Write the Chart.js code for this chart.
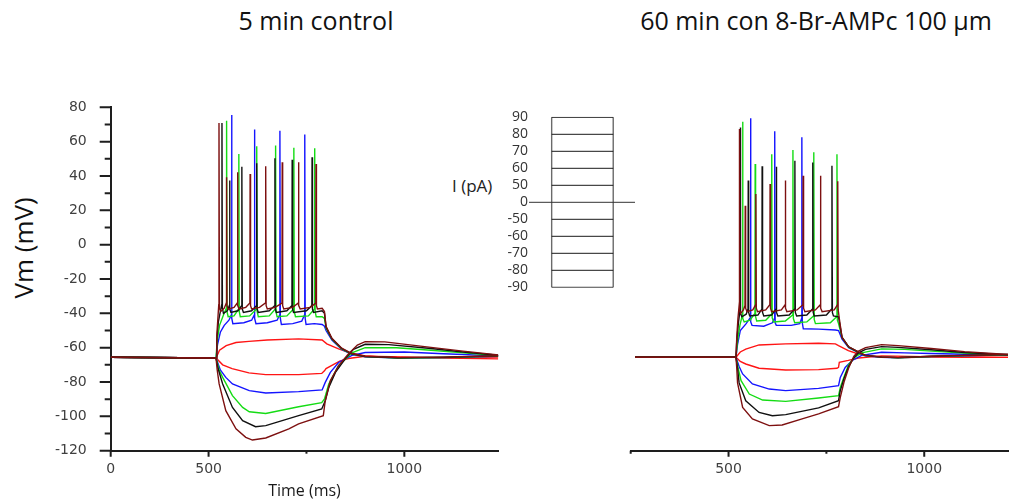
<!DOCTYPE html>
<html>
<head>
<meta charset="utf-8">
<script src="https://cdn.jsdelivr.net/npm/chart.js@4.4.1/dist/chart.umd.min.js"></script>
<style>
  html, body { margin: 0; padding: 0; background: #fff; }
  #fig { position: relative; width: 1011px; height: 501px; overflow: hidden; }
  canvas { position: absolute; top: 0; }
  .ttl { position: absolute; top: 2px; height: 36px; line-height: 36px; text-align: center;
         font-family: 'Open Sans', sans-serif; font-size: 25px; color: #111; white-space: nowrap; }
  #vm { position: absolute; left: 23px; top: 248px; transform: translate(-50%, -50%) rotate(-90deg);
        font-family: 'Open Sans', sans-serif; font-size: 26px; color: #111; white-space: nowrap; }
  #ipa { position: absolute; left: 452px; top: 174px; font-family: 'Open Sans', sans-serif;
         font-size: 17px; color: #222; white-space: nowrap; }
</style>
</head>
<body>
<div id="fig">
  <div class="ttl" style="left:0;width:632px">5 min control</div>
  <div class="ttl" style="left:621px;width:390px">60 min con 8-Br-AMPc 100 µm</div>
  <div id="vm">Vm (mV)</div>
  <div id="ipa">I (pA)</div>
  <canvas id="ctrl" width="520" height="501" style="left:0"></canvas>
  <canvas id="camp" width="390" height="501" style="left:621px"></canvas>
  <canvas id="proto" width="210" height="200" style="left:440px;top:100px"></canvas>
</div>
<script>
// ---- axis ticks ----
const yTickValues = [-120, -100, -80, -60, -40, -20, 0, 20, 40, 60, 80];
const yMinorValues = [-110, -90, -70, -50, -30, -10, 10, 30, 50, 70];
const timeTickValues = [250, 500, 750, 1000];
const ctrlTimeLabels = ['0', '500', '', '1000'];
const campTimeLabels = ['', '500', '', '1000'];

// ---- current-clamp protocol (pA) ----
const currentLevels = [90, 80, 70, 60, 50, 0, -50, -60, -70, -80, -90];
const stepWindow = [519, 796];      // ms
const holdingSpan = [417, 894];     // ms

// ---- 5 min control: membrane potential traces [time ms, Vm mV] ----
const ctrl_p50 = [[250,-65.6],[519,-66],[528,-61.5],[545,-58.8],[570,-57],[603,-56.3],[650,-55.5],[730,-54.9],[790,-55.5],[802,-57.8],[832,-60.7],[857,-62.7],[900,-64.8],[980,-65.8],[1100,-65.8],[1240,-65.5]];
const ctrl_p60 = [[250,-65.6],[519,-66],[523,-58],[530,-51],[540,-47],[552,-44],[558,-41],[558.7,75.5],[559.8,-43],[562,-46],[590,-45.5],[610,-44],[616.5,-41],[617.1,67],[618.2,-43],[621,-46],[650,-45.5],[675,-44],[681.6,-41],[682.2,66.4],[683.3,-43],[686,-46.5],[715,-46],[738,-44.5],[745.1,-41],[745.7,64.1],[746.8,-43],[749,-46.5],[770,-46],[790,-46.5],[796,-47.5],[800,-50],[815,-55.5],[840,-61],[866,-63.9],[900,-65.3],[984,-66],[1100,-65.8],[1240,-65]];
const ctrl_p70 = [[250,-65.6],[519,-66],[522,-56],[528,-47],[538,-41],[545.4,-37],[546,72.2],[547.1,-39],[550,-42],[565,-41.5],[576.7,-37.5],[577.3,52.8],[578.4,-39],[581,-42],[605,-41.5],[622.4,-37.5],[623,57.3],[624.1,-39],[627,-42],[655,-41.5],[670.6,-37.5],[671.2,57.7],[672.3,-39],[675,-42],[700,-41.5],[717.2,-37.5],[717.8,56.5],[718.9,-39],[722,-42],[755,-41.5],[770.5,-37.5],[771.1,56.1],[772.2,-39],[775,-42],[790,-42],[796,-43],[800,-48.5],[815,-55],[840,-60.7],[866,-63.7],[900,-65.2],[984,-66],[1100,-65.7],[1240,-64.9]];
const ctrl_p80 = [[250,-65.6],[519,-66],[521,-55],[525,-45],[530,-39],[533.6,-35],[534.2,70.9],[535.3,-37],[538,-40],[548,-38.5],[553,-35.5],[553.6,37.3],[554.7,-37.5],[557,-39.5],[575,-38.5],[584.4,-35.5],[585,45.4],[586.1,-37.5],[589,-39.5],[610,-38.5],[622.4,-35.5],[623,47.4],[624.1,-37.5],[627,-39.5],[655,-38.5],[668.9,-35.5],[669.5,50.3],[670.6,-37.5],[673,-39.5],[700,-38.5],[712.9,-35.5],[713.5,49.5],[714.6,-37.5],[717,-39.5],[750,-38.5],[763.7,-35.5],[764.3,50.9],[765.4,-37.5],[768,-39.5],[790,-38.5],[796,-40],[800,-48],[815,-54.8],[840,-60.5],[866,-63.6],[900,-65.1],[984,-65.9],[1100,-65.6],[1240,-64.8]];
const ctrl_p90 = [[250,-65.6],[519,-66],[521,-53],[524,-42],[526,-35],[526.6,70.9],[527.7,-37],[531,-39],[540,-37],[545.4,-34],[546,39.2],[547.1,-35.5],[550,-37.5],[565,-36.5],[573.3,-34],[573.9,42.1],[575,-35.5],[578,-37.5],[595,-36.5],[605.5,-34],[606.1,41.2],[607.2,-35.5],[610,-37.5],[630,-36.5],[645.3,-34],[645.9,45.6],[647,-35.5],[650,-37.5],[670,-36.5],[687.5,-34],[688.1,48],[689.2,-35.5],[692,-37.5],[715,-36.5],[729,-34],[729.6,48],[730.7,-35.5],[734,-37.5],[760,-36.5],[773.8,-34],[774.4,47],[775.5,-35.5],[778,-37.5],[790,-37],[796,-39],[800,-47.5],[815,-54.5],[840,-60.3],[866,-63.4],[900,-65],[984,-65.8],[1100,-65.5],[1240,-64.7]];
const ctrl_m50 = [[250,-65.6],[519,-66],[536,-70],[560,-72.2],[603,-74.7],[646,-75.7],[730,-75.7],[789,-75],[796,-73.5],[800,-72.2],[815,-70.3],[835,-67.8],[857,-66.3],[900,-65],[1000,-65.4],[1100,-66],[1240,-66.5]];
const ctrl_m60 = [[250,-65.6],[519,-66],[530,-73],[544,-77.3],[561,-81.1],[604,-85],[646,-86.4],[730,-85.6],[790,-84.6],[798,-80.2],[811,-74.4],[832,-68.6],[866,-64.5],[900,-62.8],[1000,-62.5],[1100,-63.5],[1240,-64.8]];
const ctrl_m70 = [[250,-65.6],[519,-66],[527,-73],[536,-77.3],[561,-87.9],[587,-94.8],[604,-97.3],[646,-98.3],[730,-94.4],[789,-92],[796,-89.9],[807,-81.2],[832,-70.5],[866,-63],[900,-60],[980,-60],[1068,-61.5],[1150,-63],[1240,-64.6]];
const ctrl_m80 = [[250,-65.6],[519,-66],[524,-72],[536,-81.1],[561,-94.8],[587,-102.5],[620,-106],[646,-105.4],[730,-99.6],[789,-95.7],[798,-90.9],[807,-83.1],[824,-74.4],[849,-66.5],[870,-61],[900,-58],[960,-58.2],[1068,-60.5],[1150,-62.5],[1240,-64.4]];
const ctrl_m90 = [[250,-65.6],[519,-66],[522,-73],[527,-81.1],[544,-96.7],[570,-107.3],[595,-112.2],[612,-113.8],[646,-112.6],[705,-107.3],[730,-104.4],[793,-99.6],[798,-90.9],[811,-79.2],[832,-70.5],[857,-63.7],[880,-58.5],[900,-56.5],[950,-56.6],[1068,-59.8],[1150,-62],[1240,-64.2]];

// ---- 60 min 8-Br-cAMP: membrane potential traces [time ms, Vm mV] ----
const camp_p50 = [[261,-65.6],[519,-65.6],[530,-62.5],[544,-60.8],[578,-58.4],[646,-57.8],[730,-57.4],[773,-57.8],[781,-58.8],[806,-61.7],[832,-63.7],[870,-65.2],[950,-65.8],[1100,-65],[1214,-64.3]];
const camp_p60 = [[261,-65.6],[519,-65.6],[523,-58],[530,-50],[545,-46],[555.5,-42.5],[556.1,73.6],[557.2,-45],[560,-47],[590,-47.5],[612,-45.5],[617.4,-43],[618,66],[619.1,-45.5],[622,-47],[660,-47],[682,-46],[686.7,-43],[687.3,62.5],[688.4,-45.5],[691,-49],[730,-49.2],[773,-49.7],[781,-50],[790,-55],[807,-60],[832,-62.9],[849,-64.7],[891,-65.6],[933,-65.9],[1018,-65.2],[1103,-64.7],[1214,-64.2]];
const camp_p70 = [[261,-65.6],[519,-65.6],[523,-56],[529,-47],[535.2,-41],[535.8,71.6],[536.9,-43],[540,-45],[555,-44],[567.4,-40],[568,47],[569.1,-42],[572,-44.5],[595,-44],[609.8,-40.5],[610.4,52.6],[611.5,-42.5],[615,-45],[645,-44.5],[663.9,-41],[664.5,55.2],[665.6,-43],[669,-45.5],[700,-45],[717.2,-41.5],[717.8,53.8],[718.9,-43.5],[722,-46],[760,-45.5],[776.4,-42],[777,52.6],[778.1,-44],[781,-46],[790,-54],[807,-59.7],[832,-62.7],[849,-64.6],[891,-65.5],[933,-65.9],[1018,-65.1],[1103,-64.6],[1214,-64.1]];
const camp_p80 = [[261,-65.6],[519,-65.6],[521,-56],[525,-46],[529.4,-38],[530,68.3],[531.1,-40],[534,-42],[545,-40.5],[549.7,-37.5],[550.3,37.3],[551.4,-39.5],[554,-41.5],[575,-41],[585.2,-37.5],[585.8,45.6],[586.9,-39.5],[590,-41.5],[610,-41],[621.4,-37.5],[622,45.4],[623.1,-39.5],[626,-41.5],[655,-41],[668.9,-37.5],[669.5,48.9],[670.6,-39.5],[674,-41.5],[700,-41],[714.6,-37.5],[715.2,47.9],[716.3,-39.5],[719,-41.5],[750,-41],[763.6,-37.5],[764.2,46],[765.3,-39.5],[768,-41.5],[781,-42],[790,-54],[807,-59.6],[832,-62.6],[849,-64.5],[891,-65.5],[933,-65.8],[1018,-65],[1103,-64.5],[1214,-64]];
const camp_p90 = [[261,-65.6],[519,-65.6],[521,-54],[524,-43],[526.8,-36],[527.4,67.4],[528.5,-38],[531,-40],[538,-38],[542,-35.5],[542.6,22.7],[543.7,-37],[547,-39],[562,-38],[569.2,-35],[569.8,29.5],[570.9,-37],[574,-39],[595,-38],[605.5,-35],[606.1,35.4],[607.2,-37],[610,-39],[635,-38],[644.4,-35],[645,37.3],[646.1,-37],[649,-39],[675,-38],[690,-35],[690.6,40.2],[691.7,-37],[695,-39],[722,-38],[734.2,-35],[734.8,40.2],[735.9,-37],[739,-39],[770,-38],[778.4,-35],[779,37],[780.1,-38],[783,-43],[790,-54],[807,-59.5],[832,-62.5],[849,-64.4],[891,-65.4],[933,-65.8],[1018,-65],[1103,-64.5],[1214,-64]];
const camp_m50 = [[261,-65.6],[519,-65.6],[530,-68],[544,-69.5],[578,-72],[646,-73],[730,-72.8],[777,-72],[781,-71.5],[783,-68.5],[806,-67.4],[832,-66],[891,-64.8],[1000,-65.3],[1100,-65.6],[1214,-65.6]];
const camp_m60 = [[261,-65.6],[519,-65.6],[527,-71],[536,-75.3],[561,-81.1],[604,-84.1],[646,-85],[730,-83.7],[781,-82.1],[785.5,-77.3],[798,-71.5],[815,-67.6],[840,-64.5],[891,-62.7],[950,-63],[1018,-63.4],[1103,-63.8],[1214,-64.3]];
const camp_m70 = [[261,-65.6],[519,-65.6],[525,-72.5],[532,-79.2],[553,-87],[587,-90.5],[646,-91.3],[730,-89.3],[781,-87.9],[785.5,-83.1],[795,-77],[806.6,-70],[820,-66],[840,-63],[891,-60.7],[950,-61],[1018,-62],[1103,-63.2],[1214,-64.2]];
const camp_m80 = [[261,-65.6],[519,-65.6],[523,-72],[527,-80.5],[544,-90.9],[578,-97.7],[612,-99.6],[646,-99],[730,-95.1],[781,-90.9],[785.5,-85],[795,-78],[806.6,-71],[820,-66],[832,-63],[850,-61],[891,-59.4],[933,-59.8],[1018,-61.2],[1103,-62.8],[1214,-64.1]];
const camp_m90 = [[261,-65.6],[519,-65.6],[521,-72],[523,-80.5],[536,-94.8],[561,-101.5],[604,-105.4],[637,-105],[688,-101.5],[730,-98.6],[781,-94.4],[785.5,-88.9],[795,-80],[806.6,-72],[820,-65],[832,-62],[850,-60],[891,-58.2],[933,-58.8],[1018,-60.5],[1103,-62.3],[1214,-64]];

// colour per injected-current pair (±50 ... ±90 pA)
const traceColors = { 50: '#ff1414', 60: '#1414ff', 70: '#14dc14', 80: '#111111', 90: '#7d1010' };

// first dataset is painted on top
const ctrlSets = [
  [90, ctrl_p90], [90, ctrl_m90], [80, ctrl_p80], [80, ctrl_m80], [70, ctrl_p70], [70, ctrl_m70],
  [60, ctrl_p60], [60, ctrl_m60], [50, ctrl_p50], [50, ctrl_m50]
];
const campSets = [
  [90, camp_p90], [90, camp_m90], [80, camp_p80], [80, camp_m80], [70, camp_p70], [70, camp_m70],
  [60, camp_p60], [60, camp_m60], [50, camp_p50], [50, camp_m50]
];

const AXIS = '#1e1e1e';
const TICK_FONT = { family: "'DejaVu Sans', sans-serif", size: 14 };
const TICK_COLOR = '#404040';

// draws major/minor tick marks of differing length on the scales
const tickMarks = {
  id: 'tickMarks',
  afterDraw(chart, args, opts) {
    const ctx = chart.ctx;
    ctx.save();
    ctx.strokeStyle = opts.color;
    ctx.lineWidth = opts.width;
    (opts.marks || []).forEach(m => {
      const s = chart.scales[m.axis];
      ctx.beginPath();
      m.values.forEach(v => {
        const p = s.getPixelForValue(v);
        if (s.isHorizontal()) { ctx.moveTo(p, s.top); ctx.lineTo(p, s.top + m.length); }
        else { ctx.moveTo(s.right, p); ctx.lineTo(s.right - m.length, p); }
      });
      ctx.stroke();
    });
    ctx.restore();
  }
};

function traceDatasets(sets) {
  return sets.map(([pair, pts]) => ({
    data: pts,
    borderColor: traceColors[pair],
    borderWidth: 1.4,
    pointRadius: 0,
    tension: 0,
    fill: false
  }));
}

function timeAxis(xMax, labels, withTitle) {
  return {
    type: 'linear', position: 'bottom', min: 250, max: xMax,
    afterBuildTicks: s => { s.ticks = timeTickValues.map(v => ({ value: v })); },
    afterFit: s => { s.height = 50.3; },
    ticks: { callback: (v, i) => labels[i], font: TICK_FONT, color: TICK_COLOR, padding: 4,
             maxRotation: 0, autoSkip: false },
    grid: { drawOnChartArea: false, tickLength: 6, tickColor: 'rgba(0,0,0,0)' },
    border: { color: AXIS, width: 2 },
    title: { display: withTitle, text: 'Time (ms)', color: '#1a1a1a',
             font: { family: "'Open Sans', sans-serif", size: 16 }, padding: { top: 0, bottom: 0 } }
  };
}

const baseOptions = {
  responsive: false, animation: false, devicePixelRatio: 1,
  events: [],
  plugins: { legend: { display: false }, tooltip: { enabled: false } }
};

// 5 min control
new Chart(document.getElementById('ctrl'), {
  type: 'line',
  data: { datasets: traceDatasets(ctrlSets) },
  plugins: [tickMarks],
  options: {
    ...baseOptions,
    layout: { padding: { left: 0, top: 107.3, right: 21.7, bottom: 0 } },
    scales: {
      x: timeAxis(1240, ctrlTimeLabels, true),
      y: {
        type: 'linear', position: 'left', min: -120, max: 80,
        afterBuildTicks: s => { s.ticks = yTickValues.map(v => ({ value: v })); },
        afterFit: s => { s.width = 110.7; },
        ticks: { callback: v => String(v), font: TICK_FONT, color: TICK_COLOR, padding: 13, autoSkip: false },
        grid: { drawOnChartArea: false, tickLength: 11, tickColor: 'rgba(0,0,0,0)' },
        border: { color: AXIS, width: 2 }
      }
    },
    plugins: {
      ...baseOptions.plugins,
      tickMarks: {
        color: AXIS, width: 2,
        marks: [
          { axis: 'y', values: yTickValues, length: 11 },
          { axis: 'y', values: yMinorValues, length: 6 },
          { axis: 'x', values: [250, 500, 1000], length: 6 },
          { axis: 'x', values: [750], length: 3 }
        ]
      }
    }
  }
});

// 60 min 8-Br-cAMP
new Chart(document.getElementById('camp'), {
  type: 'line',
  data: { datasets: traceDatasets(campSets) },
  plugins: [tickMarks],
  options: {
    ...baseOptions,
    layout: { padding: { left: 9.7, top: 107.3, right: 3, bottom: 0 } },
    scales: {
      x: timeAxis(1214, campTimeLabels, false),
      y: { type: 'linear', display: false, min: -120, max: 80 }
    },
    plugins: {
      ...baseOptions.plugins,
      tickMarks: {
        color: AXIS, width: 2,
        marks: [
          { axis: 'x', values: [500, 1000], length: 6 },
          { axis: 'x', values: [250, 750], length: 3 }
        ]
      }
    }
  }
});

// current step protocol
const levelLabels = currentLevels.map(String);
const protoSets = currentLevels.map(lv => {
  const span = lv === 0 ? holdingSpan : stepWindow;
  return {
    data: [{ x: span[0], y: String(lv) }, { x: span[1], y: String(lv) }],
    borderColor: lv === 0 ? '#333333' : '#1a1a1a', borderWidth: 1, pointRadius: 0
  };
});
stepWindow.forEach(t => {
  protoSets.push({
    data: [{ x: t, y: levelLabels[0] }, { x: t, y: levelLabels[levelLabels.length - 1] }],
    borderColor: '#6a6a6a', borderWidth: 1.4, pointRadius: 0
  });
});

new Chart(document.getElementById('proto'), {
  type: 'line',
  data: { labels: levelLabels, datasets: protoSets },
  options: {
    ...baseOptions,
    layout: { padding: { left: 0, top: 17.3, right: 15, bottom: 12.7 } },
    scales: {
      x: { type: 'linear', display: false, min: holdingSpan[0], max: holdingSpan[1] },
      y: {
        type: 'category', labels: levelLabels, offset: false,
        afterFit: s => { s.width = 89; },
        ticks: { font: { family: "'Open Sans', sans-serif", size: 14 }, color: '#333', padding: 1, autoSkip: false },
        grid: { display: false, drawTicks: false },
        border: { display: false }
      }
    }
  }
});
</script>
</body>
</html>
